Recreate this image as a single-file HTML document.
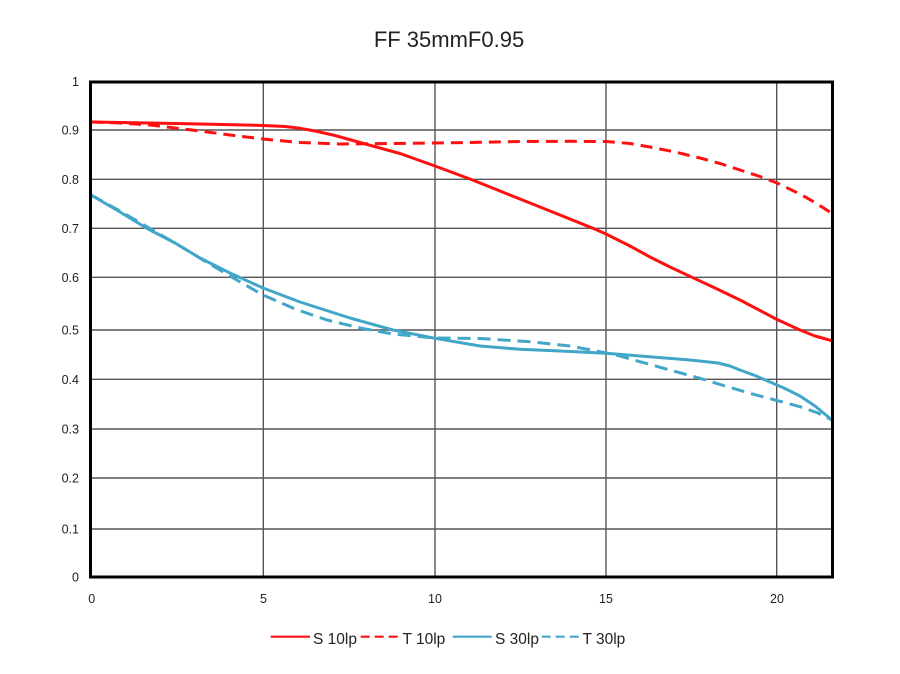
<!DOCTYPE html>
<html>
<head>
<meta charset="utf-8">
<style>
  html, body { margin: 0; padding: 0; background: #ffffff; }
  svg { display: block; }
  text { font-family: "Liberation Sans", "DejaVu Sans", sans-serif; fill: #222; }
</style>
</head>
<body>
<svg width="900" height="674" viewBox="0 0 900 674" xmlns="http://www.w3.org/2000/svg">
  <rect x="0" y="0" width="900" height="674" fill="#ffffff"/>

  <!-- Title -->
  <text x="449" y="47" font-size="22" text-anchor="middle">FF 35mmF0.95</text>

  <!-- Grid lines -->
  <g stroke="#555" stroke-width="1.4" fill="none">
    <line x1="90" y1="130" x2="833" y2="130"/>
    <line x1="90" y1="179.3" x2="833" y2="179.3"/>
    <line x1="90" y1="228.3" x2="833" y2="228.3"/>
    <line x1="90" y1="277.3" x2="833" y2="277.3"/>
    <line x1="90" y1="330" x2="833" y2="330"/>
    <line x1="90" y1="379.3" x2="833" y2="379.3"/>
    <line x1="90" y1="429" x2="833" y2="429"/>
    <line x1="90" y1="478" x2="833" y2="478"/>
    <line x1="90" y1="529" x2="833" y2="529"/>
    <line x1="263.3" y1="82" x2="263.3" y2="577"/>
    <line x1="435" y1="82" x2="435" y2="577"/>
    <line x1="606" y1="82" x2="606" y2="577"/>
    <line x1="776.7" y1="82" x2="776.7" y2="577"/>
  </g>

  <!-- Series -->
  <g fill="none" stroke-width="3" stroke-linejoin="round" stroke-linecap="butt">
    <!-- T 30lp dashed cyan -->
    <polyline stroke="#42a6c8" stroke-dasharray="13 7"
      points="91,195 120,211 150,228.5 180,246 203,260 235,279 263,295 295,309 327,320 360,328 393,334 435,338 480,338.5 530,341.7 570,346 600,351.7 620,356 640,361.7 670,370 700,378.3 725,386 750,393.3 775,400 800,406.7 818,413 832,420"/>
    <!-- S 30lp solid cyan -->
    <polyline stroke="#42a6c8"
      points="91,195 120,212 148,229 175,243 200,258 230,273 263,288 300,302 350,318 393,330 435,338.3 480,346 520,349.3 560,351 606,353.3 640,356 690,360 718,363 730,366 740,370 755,375.5 770,382 785,388.5 800,396 815,406 832,420"/>
    <!-- T 10lp dashed red -->
    <polyline stroke="#ff1010" stroke-dasharray="12 7"
      points="91,122 120,123 150,125 175,128 200,131 230,135 263,139 300,142.5 340,144 390,143.5 435,143 480,142.3 520,141.5 570,141.3 606,141.5 630,143.5 650,147 675,152 700,158 720,163.5 740,170 760,176.5 777,183 800,194 815,202.5 833,214"/>
    <!-- S 10lp solid red -->
    <polyline stroke="#ff1010"
      points="91,122 150,123 200,124 263,125.5 285,126.5 300,128.3 315,131 335,135.5 360,142.5 400,153.5 435,166 470,179 500,191 530,203 560,215 593,228.3 606,234 630,246 650,257 670,267 692,277.3 715,288 740,300 760,310.5 776,319 800,330 815,336 833,341"/>
  </g>

  <!-- Frame -->
  <rect x="90.5" y="82" width="742" height="495" fill="none" stroke="#000" stroke-width="3"/>

  <!-- Y labels -->
  <g font-size="12.5" text-anchor="end">
    <text x="79" y="86">1</text>
    <text x="79" y="134.5">0.9</text>
    <text x="79" y="183.8">0.8</text>
    <text x="79" y="232.8">0.7</text>
    <text x="79" y="281.8">0.6</text>
    <text x="79" y="334.5">0.5</text>
    <text x="79" y="383.8">0.4</text>
    <text x="79" y="433.5">0.3</text>
    <text x="79" y="482.5">0.2</text>
    <text x="79" y="533.5">0.1</text>
    <text x="79" y="581.5">0</text>
  </g>

  <!-- X labels -->
  <g font-size="12.5" text-anchor="middle">
    <text x="91.7" y="603">0</text>
    <text x="263.5" y="603">5</text>
    <text x="435" y="603">10</text>
    <text x="606" y="603">15</text>
    <text x="777" y="603">20</text>
  </g>

  <!-- Legend -->
  <g stroke-width="2.2" fill="none">
    <line x1="270.7" y1="636.7" x2="310" y2="636.7" stroke="#ff1010"/>
    <line x1="360.7" y1="636.7" x2="398" y2="636.7" stroke="#ff1010" stroke-dasharray="9 5"/>
    <line x1="452.7" y1="636.7" x2="491.7" y2="636.7" stroke="#42a6c8"/>
    <line x1="541.7" y1="636.7" x2="579" y2="636.7" stroke="#42a6c8" stroke-dasharray="9 5"/>
  </g>
  <g font-size="15.5">
    <text x="313" y="644">S 10lp</text>
    <text x="402.5" y="644">T 10lp</text>
    <text x="495" y="644">S 30lp</text>
    <text x="582.5" y="644">T 30lp</text>
  </g>
</svg>
</body>
</html>
